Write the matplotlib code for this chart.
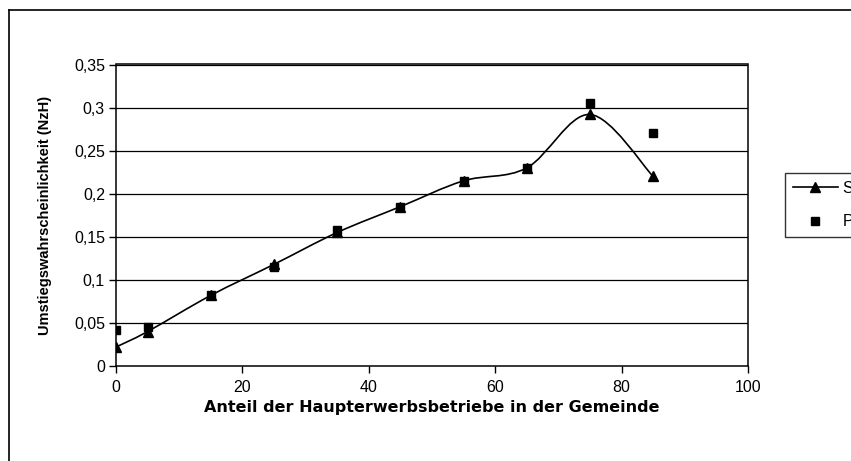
"""Umstiegswahrscheinlichkeit vs. Anteil der Haupterwerbsbetriebe"""

import matplotlib
matplotlib.use("Agg")
import matplotlib.pyplot as plt
from matplotlib.path import Path
from matplotlib.patches import PathPatch
from matplotlib.lines import Line2D

plt.rcParams['font.family'] = ['Liberation Sans', 'DejaVu Sans']

# data
anteil = [0, 5, 15, 25, 35, 45, 55, 65, 75, 85]
schaetzung = [0.022, 0.040, 0.082, 0.118, 0.155, 0.185, 0.215, 0.230, 0.292, 0.220]
prognose = [0.042, 0.045, 0.082, 0.115, 0.158, 0.185, 0.215, 0.230, 0.305, 0.270]

y_ticks = [0, 0.05, 0.1, 0.15, 0.2, 0.25, 0.3, 0.35]
y_tick_labels = ['0', '0,05', '0,1', '0,15', '0,2', '0,25', '0,3', '0,35']
x_ticks = [0, 20, 40, 60, 80, 100]


def smooth_path(xs, ys) -> Path:
    """Excel-style smoothed line (Bezier segments, Catmull-Rom control points)"""
    pts = list(zip(xs, ys))
    verts = [pts[0]]
    codes = [Path.MOVETO]
    n = len(pts)
    for i in range(n - 1):
        p0 = pts[i - 1] if i > 0 else pts[i]
        p1 = pts[i]
        p2 = pts[i + 1]
        p3 = pts[i + 2] if i + 2 < n else pts[i + 1]
        c1 = (p1[0] + (p2[0] - p0[0]) / 6, p1[1] + (p2[1] - p0[1]) / 6)
        c2 = (p2[0] - (p3[0] - p1[0]) / 6, p2[1] - (p3[1] - p1[1]) / 6)
        verts += [c1, c2, p2]
        codes += [Path.CURVE4] * 3
    return Path(verts, codes)


fig = plt.figure(figsize=(8.51, 4.61), dpi=100)
ax = fig.add_axes([116 / 851, 1 - 366 / 461, 632 / 851, (366 - 64.5) / 461])

# outer chart frame (cut off at right and bottom)
fig.add_artist(Line2D([9 / 851, 9 / 851], [0, 1 - 10 / 461], color='black', lw=1.2))
fig.add_artist(Line2D([9 / 851, 1], [1 - 10 / 461, 1 - 10 / 461], color='black', lw=1.2))

for y in y_ticks[1:]:
    ax.axhline(y, color='black', lw=0.9, zorder=1)

ax.add_patch(PathPatch(smooth_path(anteil, schaetzung), facecolor='none',
                       edgecolor='black', lw=1.2, zorder=2))
ax.plot(anteil, schaetzung, linestyle='none', marker='^', color='black',
        markersize=6.5, zorder=3)
ax.plot(anteil, prognose, linestyle='none', marker='s', color='black',
        markersize=6, zorder=4)

ax.set_xlim(0, 100)
ax.set_ylim(0, 0.35)
ax.set_xticks(x_ticks)
ax.set_yticks(y_ticks)
ax.set_yticklabels(y_tick_labels)
ax.tick_params(direction='out', length=5, width=1, labelsize=11.5, pad=3)
ax.tick_params(axis='x', pad=5)

for side in ['left', 'bottom', 'top', 'right']:
    ax.spines[side].set_linewidth(1.1)

ax.set_xlabel('Anteil der Haupterwerbsbetriebe in der Gemeinde',
              fontweight='bold', fontsize=11.5, labelpad=4,
              family=['DejaVu Sans'])
ax.set_ylabel('Umstiegswahrscheinlichkeit (NzH)', fontweight='bold',
              fontsize=10.5, labelpad=16)

handles = [Line2D([], [], color='black', marker='^', markersize=6.5, lw=1.2),
           Line2D([], [], color='black', marker='s', markersize=6, linestyle='none')]
leg = fig.legend(handles, ['Schätzung', 'Prognose'], loc='upper left',
                 bbox_to_anchor=(777 / 851, 1 - 165 / 461), fontsize=11.5,
                 frameon=True, fancybox=False, handlelength=2.8,
                 handletextpad=0.3, borderpad=0.5, labelspacing=1.15)
leg.get_frame().set_edgecolor('black')
leg.get_frame().set_linewidth(1.0)

fig.savefig('out.png', dpi=100)
